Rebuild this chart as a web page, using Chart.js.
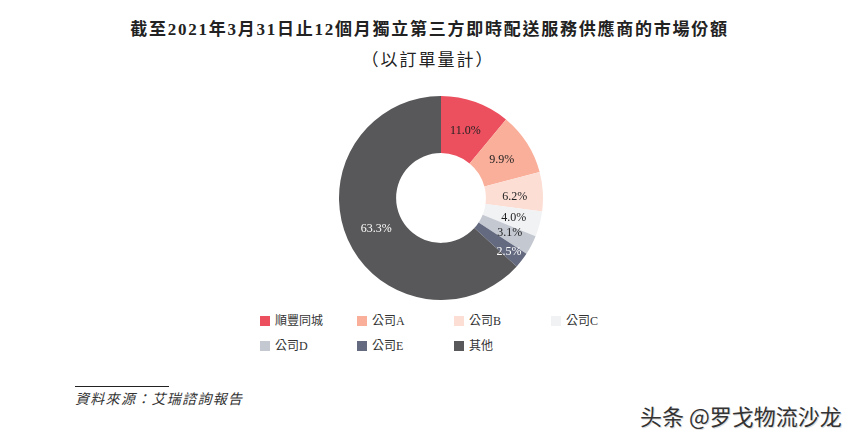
<!DOCTYPE html>
<html>
<head>
<meta charset="utf-8">
<title>市場份額</title>
<script src="https://cdn.jsdelivr.net/npm/chart.js@4"></script>
<style>
  html, body { margin: 0; padding: 0; background: #fff; }
  body { width: 853px; height: 440px; position: relative; overflow: hidden; font-family: "Liberation Serif", "Noto Sans CJK TC", serif; color: #222; }
  .title { position: absolute; left: 0; width: 859px; text-align: center; font-size: 17px; font-weight: bold; letter-spacing: 1.75px; white-space: nowrap; line-height: 22px; }
  #chartBox { position: absolute; left: 339px; top: 96px; width: 204px; height: 204px; }
  .legend-item { position: absolute; font-size: 12px; line-height: 14px; white-space: nowrap; color: #333; }
  .legend-item i { position: absolute; left: -15px; top: 2px; width: 10px; height: 10px; }
  #rule { position: absolute; left: 75px; top: 386px; width: 94px; height: 1px; background: #222; }
  #source { position: absolute; left: 75px; top: 391px; font-size: 14px; line-height: 18px; font-style: italic; color: #333; letter-spacing: 1.3px; white-space: nowrap; }
  #mark { position: absolute; left: 640px; top: 402px; font-family: "Noto Sans CJK SC", sans-serif; font-size: 22px; line-height: 26px; color: #333; text-shadow: 1px 1px 0 #ddd; white-space: nowrap; }
</style>
</head>
<body>
<div class="title" id="title1" style="top:19px"></div>
<div class="title" id="title2" style="top:50px;left:0;width:856px;font-weight:normal;letter-spacing:2px"></div>
<div id="chartBox"><canvas id="shareChart" width="204" height="204"></canvas></div>
<div id="legend"></div>
<div id="rule"></div>
<div id="source"></div>
<div id="mark"></div>

<script>
const titleLine1 = '截至2021年3月31日止12個月獨立第三方即時配送服務供應商的市場份額';
const titleLine2 = '（以訂單量計）';
const categories = ['順豐同城', '公司A', '公司B', '公司C', '公司D', '公司E', '其他'];
const shares = [11.0, 9.9, 6.2, 4.0, 3.1, 2.5, 63.3];
const sliceColors = ['#EC4F5E', '#FAAF9A', '#FCDED5', '#F1F2F4', '#C4C8D1', '#646A80', '#58585A'];
const labelColors = ['#222', '#222', '#222', '#222', '#222', '#fff', '#fff'];
const sourceText = '資料來源：艾瑞諮詢報告';
const markText = '头条 @罗戈物流沙龙';

document.getElementById('title1').textContent = titleLine1;
document.getElementById('title2').textContent = titleLine2;
document.getElementById('source').textContent = sourceText;
document.getElementById('mark').textContent = markText;

// legend: four columns, two rows
const legendBox = document.getElementById('legend');
categories.forEach((name, i) => {
  const item = document.createElement('div');
  item.className = 'legend-item';
  item.style.left = (275 + (i % 4) * 97) + 'px';
  item.style.top = (314 + Math.floor(i / 4) * 25) + 'px';
  item.innerHTML = '<i style="background:' + sliceColors[i] + '"></i>' + name;
  legendBox.appendChild(item);
});

// percent labels on the slices, small ones nudged apart as in the original
const labelNudge = [[0, 1], [0, 1], [2, 3], [3, 2], [5, 2], [11, 10], [1, 2]];
const sliceLabels = {
  id: 'sliceLabels',
  afterDatasetsDraw(chart) {
    const ctx = chart.ctx;
    ctx.save();
    ctx.font = '12px "Liberation Serif", serif';
    ctx.textAlign = 'center';
    ctx.textBaseline = 'middle';
    chart.getDatasetMeta(0).data.forEach((arc, i) => {
      const mid = (arc.startAngle + arc.endAngle) / 2;
      const r = 72;
      ctx.fillStyle = labelColors[i];
      ctx.fillText(shares[i].toFixed(1) + '%',
        arc.x + Math.cos(mid) * r + labelNudge[i][0],
        arc.y + Math.sin(mid) * r + labelNudge[i][1]);
    });
    ctx.restore();
  }
};

new Chart(document.getElementById('shareChart').getContext('2d'), {
  type: 'doughnut',
  data: {
    labels: categories,
    datasets: [{
      data: shares,
      backgroundColor: sliceColors,
      borderWidth: 0
    }]
  },
  options: {
    responsive: false,
    animation: false,
    cutout: '44%',
    plugins: {
      legend: { display: false },
      tooltip: { enabled: false }
    }
  },
  plugins: [sliceLabels]
});
</script>
</body>
</html>
